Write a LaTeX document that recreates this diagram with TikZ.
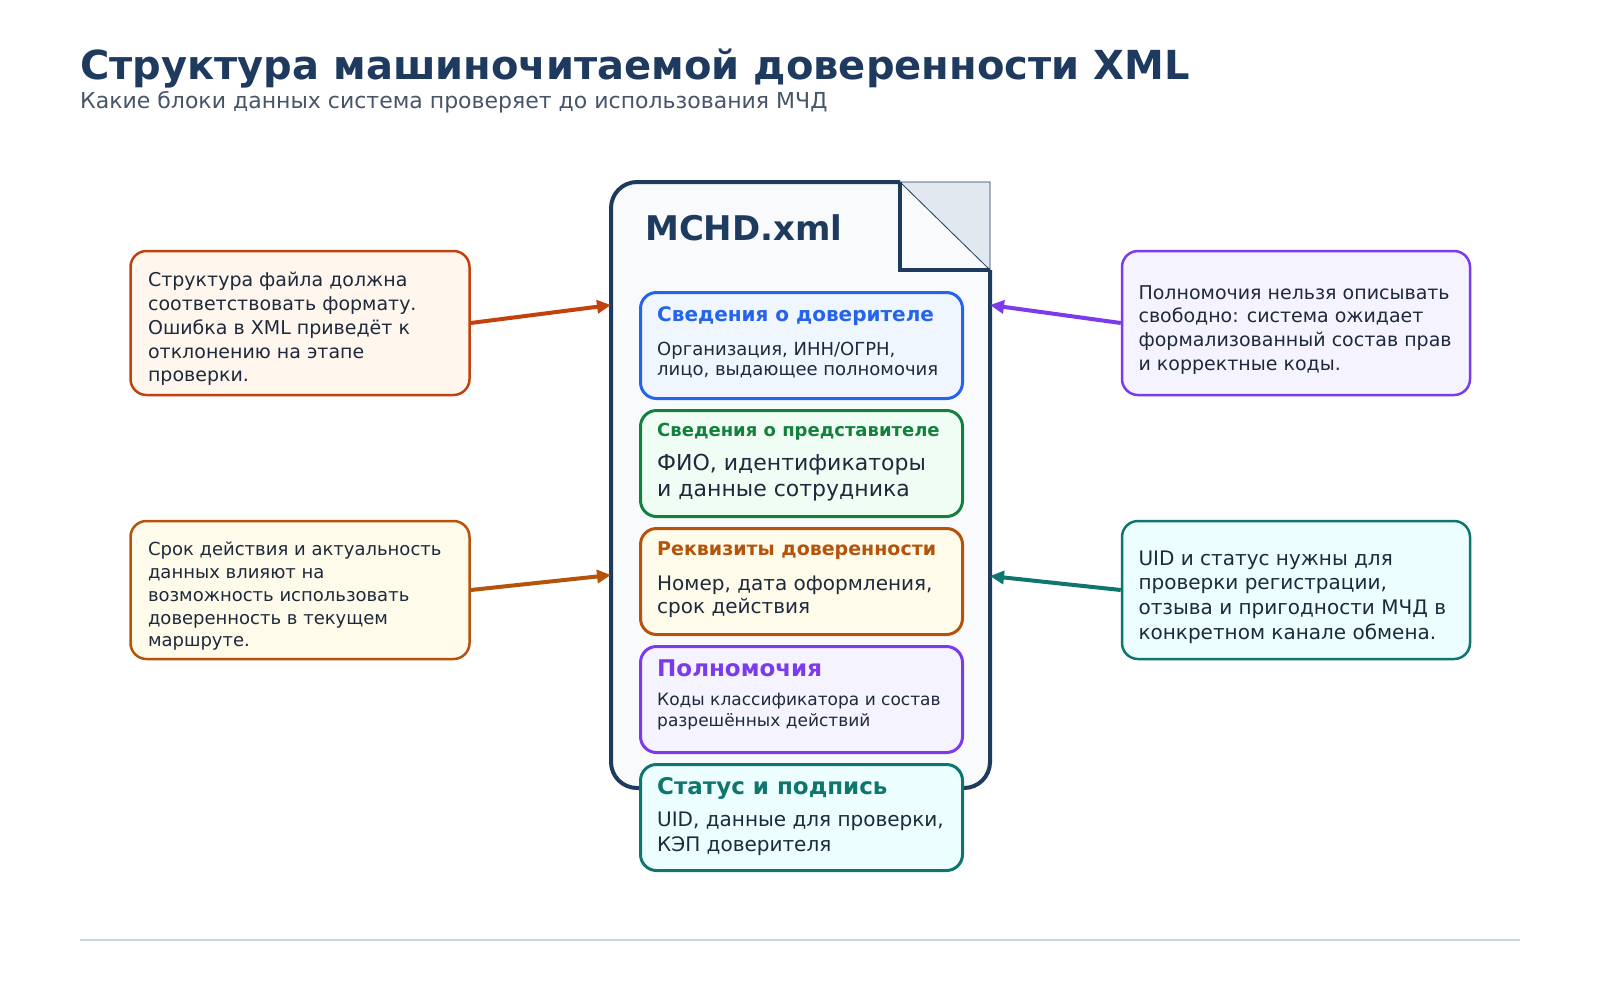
\documentclass[tikz,border=0pt]{standalone}
\usepackage{fontspec}
\setmainfont{DejaVu Sans}
\usepackage{tikz}
\usetikzlibrary{arrows.meta,positioning,calc}

\definecolor{navy}{HTML}{1E3A5F}
\definecolor{ink}{HTML}{1E293B}
\definecolor{subink}{HTML}{475569}
\definecolor{docbg}{HTML}{F8FAFC}
\definecolor{foldbg}{HTML}{E2E8F0}
\definecolor{rulec}{HTML}{CBD5E1}
\definecolor{cblue}{HTML}{2563EB}   \definecolor{fblue}{HTML}{EFF6FF}
\definecolor{cgreen}{HTML}{15803D}  \definecolor{fgreen}{HTML}{F0FDF4}
\definecolor{cbrown}{HTML}{B45309}  \definecolor{fbrown}{HTML}{FFFBEB}
\definecolor{cred}{HTML}{C2410C}    \definecolor{fred}{HTML}{FFF7ED}
\definecolor{cviolet}{HTML}{7C3AED} \definecolor{fviolet}{HTML}{F5F3FF}
\definecolor{cteal}{HTML}{0F766E}   \definecolor{fteal}{HTML}{ECFEFF}

\begin{document}
\begin{tikzpicture}[x=1pt, y=-1pt,
    frame/.style={draw, rounded corners=16, line width=3, minimum width=322,
                  minimum height=106, inner sep=0},
    note/.style={draw, rounded corners=16, line width=2.5, minimum width=339,
                 minimum height=144, inner sep=0},
    head/.style={anchor=base west, inner sep=0, font=\bfseries},
    body/.style={anchor=base west, inner sep=0, align=left, text=ink},
    arr/.style={-{Triangle[length=14, width=13]}, line width=4}
]
    \fill[white] (0,0) rectangle (1600,980);
    \useasboundingbox (0,0) rectangle (1600,980);

    % title
    \node[anchor=base west, inner sep=0, text=navy, font=\fontsize{40}{48}\selectfont\bfseries] (title) at (80,79) {Структура машиночитаемой доверенности XML};
    \node[anchor=base west, inner sep=0, text=subink, font=\fontsize{22}{26}\selectfont] (subtitle) at (80,108) {Какие блоки данных система проверяет до использования МЧД};

    % file sheet
    \draw[navy, line width=4, fill=docbg, rounded corners=26] (900,182) -- (611,182) -- (611,788) -- (990,788) -- (990,270);
    \draw[navy, line width=0.8, fill=foldbg] (900,182) -- (990,182) -- (990,270) -- cycle;
    \draw[navy, line width=4] (900,182) -- (900,270) -- (990,270);
    \node[anchor=base west, inner sep=0, text=navy, font=\fontsize{34}{40}\selectfont\bfseries] (fname) at (645,240) {MCHD.xml};

    \coordinate (docl1) at (611,305);
    \coordinate (docl2) at (611,575);
    \coordinate (docr1) at (990,305);
    \coordinate (docr2) at (990,576);

    % blocks inside the file
    \node[frame, draw=cblue, fill=fblue, anchor=north west] (nfrom) at (639,291) {};
    \node[frame, draw=cgreen, fill=fgreen, below=9pt of nfrom] (nagent) {};
    \node[frame, draw=cbrown, fill=fbrown, below=9pt of nagent] (nreq) {};
    \node[frame, draw=cviolet, fill=fviolet, below=9pt of nreq] (nrights) {};
    \node[frame, draw=cteal, fill=fteal, below=9pt of nrights] (nsign) {};

    \node[head, text=cblue, font=\fontsize{20}{24}\selectfont\bfseries] (hfrom) at ($(nfrom.north west)+(18,30)$) {Сведения о доверителе};
    \node[body, font=\fontsize{18}{20}\selectfont] (bfrom) at ($(nfrom.north west)+(18,84)$) {Организация, ИНН/ОГРН,\\лицо, выдающее полномочия};

    \node[head, text=cgreen, font=\fontsize{18}{22}\selectfont\bfseries] (hagent) at ($(nagent.north west)+(18,27.7)$) {Сведения о представителе};
    \node[body, font=\fontsize{22}{26.7}\selectfont] (bagent) at ($(nagent.north west)+(18,87.7)$) {ФИО, идентификаторы\\и данные сотрудника};

    \node[head, text=cbrown, font=\fontsize{19}{23}\selectfont\bfseries] (hreq) at ($(nreq.north west)+(18,28.7)$) {Реквизиты доверенности};
    \node[body, font=\fontsize{20}{23.3}\selectfont] (breq) at ($(nreq.north west)+(18,86.3)$) {Номер, дата оформления,\\срок действия};

    \node[head, text=cviolet, font=\fontsize{23}{27}\selectfont\bfseries] (hrights) at ($(nrights.north west)+(18,31.7)$) {Полномочия};
    \node[body, font=\fontsize{17}{21.7}\selectfont] (brights) at ($(nrights.north west)+(18,81.7)$) {Коды классификатора и состав\\разрешённых действий};

    \node[head, text=cteal, font=\fontsize{23}{27}\selectfont\bfseries] (hsign) at ($(nsign.north west)+(18,31.7)$) {Статус и подпись};
    \node[body, font=\fontsize{20}{24.7}\selectfont] (bsign) at ($(nsign.north west)+(18,88.3)$) {UID, данные для проверки,\\КЭП доверителя};

    % side notes
    \node[note, draw=cred, fill=fred] (nformat) at (300,323) {};
    \node[note, draw=cbrown, fill=fbrown, minimum height=138] (nterm) at (300,590) {};
    \node[note, draw=cviolet, fill=fviolet, minimum width=348] (ncodes) at (1296,323) {};
    \node[note, draw=cteal, fill=fteal, minimum width=348, minimum height=138] (nstatus) at (1296,590) {};

    \node[body, font=\fontsize{19}{23.75}\selectfont] (tformat) at ($(nformat.north west)+(18.6,132)$) {Структура файла должна\\соответствовать формату.\\Ошибка в XML приведёт к\\отклонению на этапе\\проверки.};
    \node[body, font=\fontsize{18}{22.75}\selectfont] (tterm) at ($(nterm.north west)+(18.6,127)$) {Срок действия и актуальность\\данных влияют на\\возможность использовать\\доверенность в текущем\\маршруте.};
    \node[body, font=\fontsize{19}{23.7}\selectfont] (tcodes) at ($(ncodes.north west)+(17.6,120.5)$) {Полномочия нельзя описывать\\свободно: система ожидает\\формализованный состав прав\\и корректные коды.};
    \node[body, font=\fontsize{20}{24.7}\selectfont] (tstatus) at ($(nstatus.north west)+(17.6,119.5)$) {UID и статус нужны для\\проверки регистрации,\\отзыва и пригодности МЧД в\\конкретном канале обмена.};

    \draw[arr, cred] (nformat.east) -- (docl1);
    \draw[arr, cbrown] (nterm.east) -- (docl2);
    \draw[arr, cviolet] (ncodes.west) -- (docr1);
    \draw[arr, cteal] (nstatus.west) -- (docr2);

    \draw[rulec, line width=1.5] (80,940) -- (1520,940);
\end{tikzpicture}
\end{document}
